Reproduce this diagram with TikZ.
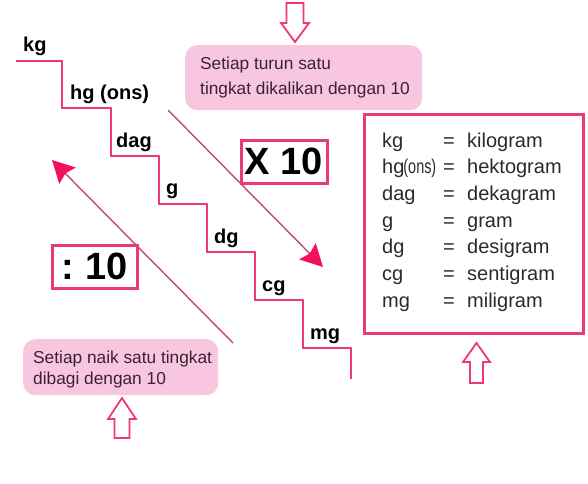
\documentclass[tikz,border=0pt]{standalone}
\usepackage{fontspec}
\usepackage{graphicx}
\setmainfont{Liberation Sans}
\usetikzlibrary{arrows.meta}
\definecolor{pinkline}{HTML}{EC3A72}
\definecolor{pinkfill}{HTML}{F8C6DE}
\definecolor{darktext}{HTML}{3A2233}
\definecolor{diagline}{HTML}{C24A6C}
\definecolor{headred}{HTML}{F0135C}
\definecolor{legendtext}{HTML}{2A2A2A}
\tikzset{
  stair/.style={draw=pinkline, line width=2.6pt, line join=miter},
  lbl/.style={font=\fontsize{20}{24}\selectfont\bfseries, inner sep=0pt, anchor=base west},
  diag/.style={draw=diagline, line width=1.4pt, -{Stealth[length=22pt,width=23pt,inset=3pt,color=headred]}},
  opbox/.style={draw=pinkline, line width=3pt, fill=white, inner sep=0pt,
    font=\fontsize{38}{40}\selectfont\bfseries},
  pinkbox/.style={fill=pinkfill, rounded corners=12pt, inner sep=0pt, anchor=north west},
  notetext/.style={font=\fontsize{17.3}{20}\selectfont, text=darktext, anchor=base west, inner sep=0pt},
  hollow/.style={draw=pinkline, line width=1.8pt, fill=white, line join=miter},
  legtext/.style={font=\fontsize{20}{24}\selectfont, text=legendtext, inner sep=0pt, anchor=base west}
}
\begin{document}
\begin{tikzpicture}[x=1pt,y=-1pt]
\useasboundingbox (0,0) rectangle (588,483);

% staircase
\draw[stair] (16,61) -| (62,108) -| (111,156) -| (159,204) -| (207,252) -| (255,300) -| (303,348) -| (351,379);

% step labels
\node[lbl] (kg) at (23,51) {kg};
\node[lbl] (hg) at (70,99) {hg (ons)};
\node[lbl] (dag) at (116,147) {dag};
\node[lbl] (g) at (166,194) {g};
\node[lbl] (dg) at (214,243) {dg};
\node[lbl] (cg) at (262,291) {cg};
\node[lbl] (mg) at (310,339) {mg};

% diagonal arrows
\coordinate (xs) at (168,110);
\coordinate (xe) at (323,267);
\coordinate (ds) at (233,343);
\coordinate (de) at (52,160);
\draw[diag] (xs) -- (xe);
\draw[diag] (ds) -- (de);

% operator boxes
\node[opbox, minimum width=86pt, minimum height=43pt] (times) at (284,161.5) {X 10};
\node[opbox, minimum width=85pt, minimum height=43pt] (divide) at (94.5,266.5) {:\hspace{-2pt} 10};

% pink note boxes
\node[pinkbox, minimum width=237pt, minimum height=65pt] (turunbox) at (185,45) {};
\node[notetext] (turun1) at (200,69) {Setiap turun satu};
\node[notetext] (turun2) at (200,94) {tingkat dikalikan dengan 10};
\node[pinkbox, minimum width=195pt, minimum height=56pt] (naikbox) at (23,339) {};
\node[notetext] (naik1) at (33,363) {Setiap naik satu tingkat};
\node[notetext] (naik2) at (33,384) {dibagi dengan 10};

% legend box
\node[draw=pinkline, line width=3pt, minimum width=219pt, minimum height=219pt, inner sep=0pt] (legend) at (473.5,223.5) {};
\foreach \a/\b [count=\i] in {kg/kilogram, {hg\hspace{-1pt}\scalebox{0.72}[1]{(ons)}}/hektogram, dag/dekagram, g/gram, dg/desigram, cg/sentigram, mg/miligram}{
  \node[legtext] (l\i) at (382,{147+26.7*(\i-1)}) {\a};
  \node[legtext] (e\i) at (443,{147+26.7*(\i-1)}) {=};
  \node[legtext] (r\i) at (467,{147+26.7*(\i-1)}) {\b};
}

% hollow block arrows
\draw[hollow] (286.5,3) -- (303.5,3) -- (303.5,23) -- (309,23) -- (295,42) -- (281,23) -- (286.5,23) -- cycle;
\draw[hollow] (470,383) -- (483,383) -- (483,362) -- (490,362) -- (476.5,343) -- (463,362) -- (470,362) -- cycle;
\draw[hollow] (114.5,438) -- (129.5,438) -- (129.5,419) -- (136,419) -- (122,398) -- (108,419) -- (114.5,419) -- cycle;
\end{tikzpicture}
\end{document}
